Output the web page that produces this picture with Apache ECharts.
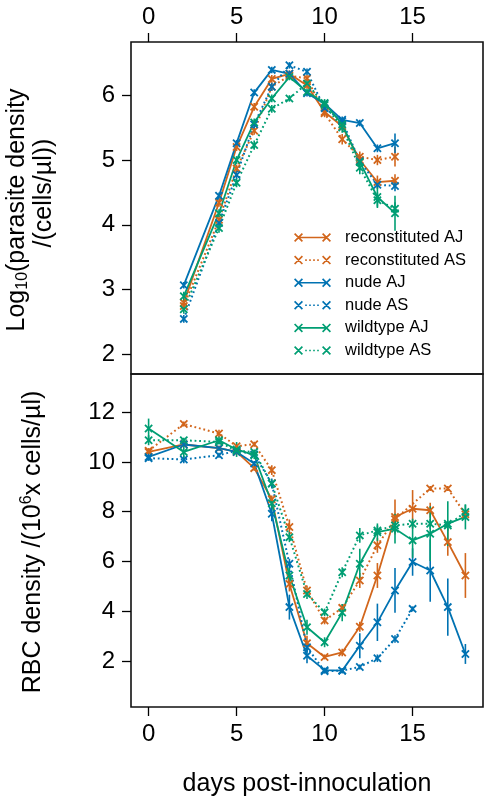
<!DOCTYPE html>
<html>
<head>
<meta charset="utf-8">
<script src="https://cdn.jsdelivr.net/npm/echarts@6/dist/echarts.min.js"></script>
<style>
html,body{margin:0;padding:0;background:#fff;}
#chart{width:492px;height:807px;}
</style>
</head>
<body>
<div id="chart"></div>
<script>
// ---------- data ----------
const seriesNames = ['reconstituted AJ','reconstituted AS','nude AJ','nude AS','wildtype AJ','wildtype AS'];
const xTicks = [0,5,10,15];
const parasiteTicks = [2,3,4,5,6];
const rbcTicks = [2,4,6,8,10,12];

// top panel: log10 parasite density
const parasiteDays = [2,4,5,6,7,8,9,10,11,12,13,14];
const parReconAJ = [2.80,4.34,5.20,5.82,6.25,6.33,6.15,5.74,5.52,5.00,4.66,4.68];
const parReconAS = [2.75,4.08,4.87,5.45,6.13,6.30,6.26,5.72,5.32,5.05,5.00,5.05];
const parNudeAJ  = [3.07,4.45,5.26,6.04,6.39,6.33,6.03,5.87,5.62,5.57,5.18,5.26];
const parNudeAS  = [2.55,4.03,4.77,5.55,6.13,6.46,6.36,5.80,5.60,4.98,4.62,4.60];
const parWildAJ  = [2.90,4.18,5.00,5.58,5.95,6.28,6.05,5.88,5.55,4.97,4.43,4.18];
const parWildAS  = [2.70,3.95,4.65,5.23,5.79,5.95,6.18,5.85,5.50,4.88,4.38,4.25];
const parErrReconAJ = [0.06,0.06,0.06,0.06,0.06,0.05,0.05,0.06,0.06,0.08,0.10,0.10];
const parErrReconAS = [0.06,0.06,0.06,0.06,0.06,0.05,0.05,0.06,0.08,0.08,0.08,0.15];
const parErrNudeAJ  = [0.05,0.05,0.05,0.05,0.05,0.05,0.05,0.05,0.05,0.05,0.06,0.15];
const parErrNudeAS  = [0.06,0.06,0.06,0.06,0.06,0.05,0.05,0.05,0.05,0.06,0.06,0.08];
const parErrWildAJ  = [0.07,0.06,0.06,0.06,0.06,0.05,0.05,0.06,0.08,0.10,0.15,0.27];
const parErrWildAS  = [0.07,0.07,0.07,0.07,0.06,0.05,0.05,0.06,0.08,0.10,0.12,0.10];

// bottom panel: RBC density
const rbcDays = [0,2,4,5,6,7,8,9,10,11,12,13,14,15,16,17,18];
const rbcReconAJ = [10.40,10.70,10.55,10.40,9.75,8.50,5.10,2.72,2.17,2.35,3.38,5.44,7.79,8.12,8.06,6.78,5.44];
const rbcReconAS = [10.45,11.52,11.14,10.63,10.71,9.67,7.39,4.84,3.63,4.14,5.24,6.65,7.70,null,8.93,8.93,7.90];
const rbcNudeAJ  = [10.20,10.70,10.55,10.40,9.94,7.92,4.17,2.22,1.64,1.62,2.62,3.56,4.84,5.98,5.64,4.17,2.29];
const rbcNudeAS  = [10.15,10.10,10.27,10.45,10.30,9.13,5.91,2.56,1.60,1.62,1.77,2.12,2.89,4.10,null,null,null];
const rbcWildAJ  = [11.34,10.40,10.87,10.50,10.27,8.34,5.44,3.36,2.76,3.95,5.91,7.18,7.32,6.85,7.12,7.52,7.79];
const rbcWildAS  = [10.87,10.87,10.80,10.45,10.40,9.13,6.98,4.70,3.96,5.57,7.05,7.25,7.45,7.52,7.52,7.45,7.99];
const rbcErrReconAJ = [0.15,0.10,0.10,0.10,0.10,0.15,0.30,0.30,0.10,0.15,0.20,0.50,0.70,0.75,0.30,0.55,0.90];
const rbcErrReconAS = [0.10,0.10,0.15,0.10,0.10,0.20,0.30,0.20,0.15,0.15,0.30,0.30,0.20,null,0.10,0.10,0.15];
const rbcErrNudeAJ  = [0.15,0.10,0.10,0.10,0.10,0.30,0.50,0.30,0.10,0.10,0.50,0.75,0.90,0.55,1.25,1.15,0.40];
const rbcErrNudeAS  = [0.10,0.15,0.10,0.10,0.10,0.20,0.20,0.20,0.10,0.10,0.10,0.15,0.15,0.10,null,null,null];
const rbcErrWildAJ  = [0.40,0.30,0.15,0.30,0.15,0.20,0.30,0.30,0.20,0.35,0.60,0.35,0.60,0.70,1.10,0.90,0.50];
const rbcErrWildAS  = [0.20,0.10,0.10,0.10,0.10,0.15,0.20,0.20,0.15,0.20,0.30,0.20,0.30,0.20,0.20,0.20,0.30];

// ---------- styles ----------
const colors = ['#D2661C','#D2661C','#0072B2','#0072B2','#009E73','#009E73'];
const dotted = [false,true,false,true,false,true];
const FONT = 'Liberation Sans, Arial, Helvetica, sans-serif';
const xMark = 'path://M0,1.5 L1.5,0 L10,8.5 L8.5,10 Z M8.5,0 L10,1.5 L1.5,10 L0,8.5 Z';
const legSolid = 'path://M0,1.2 L1.2,0 L9,7.8 L7.8,9 Z M7.8,0 L9,1.2 L1.2,9 L0,7.8 Z M28,1.2 L29.2,0 L37,7.8 L35.8,9 Z M35.8,0 L37,1.2 L29.2,9 L28,7.8 Z M4.5,3.7 L32.5,3.7 L32.5,5.3 L4.5,5.3 Z';
const legDot = 'path://M0,1.2 L1.2,0 L9,7.8 L7.8,9 Z M7.8,0 L9,1.2 L1.2,9 L0,7.8 Z M28,1.2 L29.2,0 L37,7.8 L35.8,9 Z M35.8,0 L37,1.2 L29.2,9 L28,7.8 Z M11.2,3.7 h1.6 v1.6 h-1.6 Z M15.2,3.7 h1.6 v1.6 h-1.6 Z M19.2,3.7 h1.6 v1.6 h-1.6 Z M23.2,3.7 h1.6 v1.6 h-1.6 Z';

const parVals = [parReconAJ,parReconAS,parNudeAJ,parNudeAS,parWildAJ,parWildAS];
const parErrs = [parErrReconAJ,parErrReconAS,parErrNudeAJ,parErrNudeAS,parErrWildAJ,parErrWildAS];
const rbcVals = [rbcReconAJ,rbcReconAS,rbcNudeAJ,rbcNudeAS,rbcWildAJ,rbcWildAS];
const rbcErrs = [rbcErrReconAJ,rbcErrReconAS,rbcErrNudeAJ,rbcErrNudeAS,rbcErrWildAJ,rbcErrWildAS];

function lineSeries(k, gi, days, vals) {
  const data = [];
  days.forEach((d,i)=>{ if (vals[i] != null) data.push([d, vals[i]]); });
  return {
    type:'line', name: seriesNames[k], xAxisIndex: gi, yAxisIndex: gi,
    data, symbol: xMark, symbolSize: 8.5, showSymbol: true, silent: true,
    lineStyle: {color: colors[k], width: dotted[k] ? 2 : 1.8, type: dotted[k] ? [1.8, 2.8] : 'solid'},
    itemStyle: {color: colors[k]}, z: 3
  };
}
function errSeries(k, gi, days, vals, errs) {
  const data = [];
  days.forEach((d,i)=>{ if (vals[i] != null && errs[i] != null) data.push([d, vals[i]-errs[i], vals[i]+errs[i]]); });
  return {
    type:'custom', name: seriesNames[k] + ' err', xAxisIndex: gi, yAxisIndex: gi, silent: true, z: 2,
    data,
    renderItem: function(params, api) {
      const p1 = api.coord([api.value(0), api.value(1)]);
      const p2 = api.coord([api.value(0), api.value(2)]);
      return {type:'line', shape:{x1:p1[0], y1:p1[1], x2:p2[0], y2:p2[1]}, style:{stroke: colors[k], lineWidth: 1.6}};
    }
  };
}

const series = [];
for (let k=0;k<6;k++) {
  series.push(errSeries(k,0,parasiteDays,parVals[k],parErrs[k]));
  series.push(errSeries(k,1,rbcDays,rbcVals[k],rbcErrs[k]));
}
for (let k=0;k<6;k++) {
  series.push(lineSeries(k,0,parasiteDays,parVals[k]));
  series.push(lineSeries(k,1,rbcDays,rbcVals[k]));
}

const labelStyle = {fontFamily: FONT, fontSize: 24, color: '#000'};
const tickStyle = {show:true, length: 9, lineStyle:{color:'#000', width:1.3}};

const option = {
  animation: false,
  backgroundColor: '#fff',
  textStyle: {fontFamily: FONT},
  grid: [
    {left:131, top:42, width:352, height:332, show:true, borderColor:'#111', borderWidth:1.6, backgroundColor:'transparent'},
    {left:131, top:374, width:352, height:333, show:true, borderColor:'#111', borderWidth:1.6, backgroundColor:'transparent'}
  ],
  xAxis: [
    {type:'value', gridIndex:0, position:'top', min:-1, max:19,
     axisLine:{show:false, onZero:false}, splitLine:{show:false},
     axisTick: Object.assign({customValues: xTicks}, tickStyle),
     axisLabel: Object.assign({customValues: xTicks, margin: 13}, labelStyle)},
    {type:'value', gridIndex:1, position:'bottom', min:-1, max:19,
     axisLine:{show:false, onZero:false}, splitLine:{show:false},
     axisTick: Object.assign({customValues: xTicks}, tickStyle),
     axisLabel: Object.assign({customValues: xTicks, margin: 15}, labelStyle),
     name:'days post-innoculation', nameLocation:'middle', nameGap: 65,
     nameTextStyle: {fontFamily: FONT, fontSize: 25, color:'#000'}}
  ],
  yAxis: [
    {type:'value', gridIndex:0, min:1.7, max:6.82,
     axisLine:{show:false, onZero:false}, splitLine:{show:false},
     axisTick: Object.assign({customValues: parasiteTicks}, tickStyle),
     axisLabel: Object.assign({customValues: parasiteTicks, margin: 16}, labelStyle)},
    {type:'value', gridIndex:1, min:0.16, max:13.53,
     axisLine:{show:false, onZero:false}, splitLine:{show:false},
     axisTick: Object.assign({customValues: rbcTicks}, tickStyle),
     axisLabel: Object.assign({customValues: rbcTicks, margin: 16}, labelStyle)}
  ],
  legend: {
    orient:'vertical', left: 289, top: 224, itemWidth: 37, itemHeight: 9, itemGap: 5.6,
    selectedMode: false,
    textStyle: {fontFamily: FONT, fontSize: 16.5, color:'#000', lineHeight: 16, padding:[0,0,0,9]},
    data: seriesNames.map((n,k)=>({name:n, icon: dotted[k] ? legDot : legSolid}))
  },
  graphic: [
    {type:'text', x:17, y:210, rotation: Math.PI/2,
     style:{text:'{a|Log}{s|10}{a|(parasite density}', align:'center', verticalAlign:'middle',
       rich:{a:{fontFamily:FONT, fontSize:25, fill:'#000', lineHeight:28},
             s:{fontFamily:FONT, fontSize:16, fill:'#000', lineHeight:28, verticalAlign:'bottom', padding:[10,0,0,0]}}}},
    {type:'text', x:44, y:193, rotation: Math.PI/2,
     style:{text:'/(cells/µl))', align:'center', verticalAlign:'middle', fontFamily:FONT, fontSize:25, fill:'#000'}},
    {type:'text', x:33, y:542, rotation: Math.PI/2,
     style:{text:'{a|RBC density /(10}{p|6}{a|x cells/µl)}', align:'center', verticalAlign:'middle',
       rich:{a:{fontFamily:FONT, fontSize:25, fill:'#000', lineHeight:28},
             p:{fontFamily:FONT, fontSize:16, fill:'#000', lineHeight:28, padding:[0,0,13,0]}}}}
  ],
  series
};
const chart = echarts.init(document.getElementById('chart'), null, {renderer:'canvas'});
chart.setOption(option);
</script>
</body>
</html>
